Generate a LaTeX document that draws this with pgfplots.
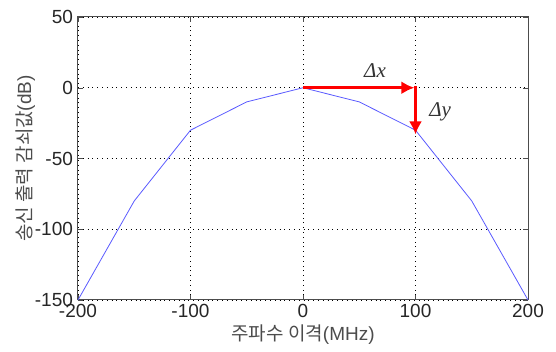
\documentclass[border=0pt]{standalone}
\usepackage{pgfplots}
\pgfplotsset{compat=1.18}
\usetikzlibrary{arrows.meta}
\usepackage{fontspec}
\setmainfont{Liberation Sans}
\newfontfamily\kr{Noto Sans CJK KR}
\newfontfamily\tms{Liberation Serif}
\begin{document}
\begin{tikzpicture}
\begin{axis}[
  scale only axis,
  width=225pt, height=141.5pt,
  xmin=-200, xmax=200, ymin=-150, ymax=50,
  xtick={-200,-100,0,100,200},
  ytick={-150,-100,-50,0,50},
  tick align=inside,
  major tick length=2.5pt,
  grid=major,
  grid style={black, dotted, line width=0.4pt},
  axis line style={black!70, line width=0.5pt},
  tick style={black!70},
  /pgf/number format/assume math mode=true,
  ticklabel style={font=\fontsize{9.5}{10}\selectfont, text=black!85},
  xticklabel style={yshift=1.5pt},
  yticklabel style={xshift=1pt},
  xlabel={{\kr 주파수 이격}(MHz)},
  ylabel={{\kr 송신 출력 감쇠값}(dB)},
  xlabel style={font=\fontsize{9.5}{10}\selectfont, text=black!70, yshift=3pt},
  ylabel style={font=\fontsize{9.5}{10}\selectfont, text=black!70, yshift=-7pt},
  clip=false,
]
\addplot[color={rgb,255:red,90;green,90;blue,255}, line width=0.4pt] coordinates {
  (-200,-150) (-150,-80) (-100,-30) (-50,-10) (0,0) (50,-10) (100,-30) (150,-80) (200,-150)
};
\addplot[red, line width=1.7pt, -{Latex[length=6.5pt,width=6.5pt]}] coordinates {(0,0) (99,0)};
\addplot[red, line width=1.7pt, -{Latex[length=6.5pt,width=6.5pt]}] coordinates {(100,1) (100,-33)};
\node[font=\fontsize{10.5}{12}\tms\itshape, text=black!80] at (axis cs:64,12) {Δx};
\node[font=\fontsize{10.5}{12}\tms\itshape, text=black!80, anchor=west] at (axis cs:106,-17) {Δy};
\end{axis}
\path ([xshift=-39pt,yshift=-22.5pt]current axis.south west) rectangle ([xshift=14pt,yshift=8.5pt]current axis.north east);
\end{tikzpicture}
\end{document}
